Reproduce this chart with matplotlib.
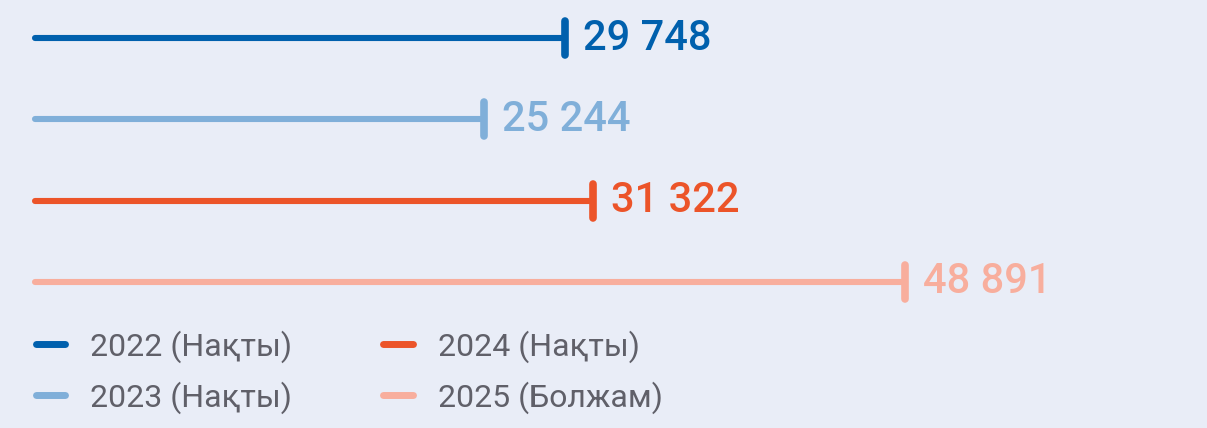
import matplotlib
matplotlib.use('Agg')
import matplotlib.pyplot as plt
from matplotlib.lines import Line2D
from matplotlib.markers import MarkerStyle

# Дерек
years = ['2022 (Нақты)', '2023 (Нақты)', '2024 (Нақты)', '2025 (Болжам)']
values = [29748, 25244, 31322, 48891]
colors = ['#0060AD', '#80AFD9', '#EC5429', '#F8AE9D']

bg = '#E9EDF7'
W, H = 1207, 428
fig = plt.figure(figsize=(W / 100, H / 100), dpi=100, facecolor=bg)
ax = fig.add_axes([0, 0, 1, 1], facecolor=bg)

# пиксельдік масштаб
px_per_unit = 0.0178
x0 = 35
ax.set_xlim(-x0 / px_per_unit, (W - x0) / px_per_unit)
row_step, row0 = 81.3, 38
ax.set_ylim((H - row0) / row_step, -row0 / row_step)
ax.axis('off')

cap = MarkerStyle('|', capstyle='round')
for i, (v, c) in enumerate(zip(values, colors)):
    ax.plot([0, v], [i, i], color=c, lw=4.4, solid_capstyle='round')
    ax.plot([v], [i], marker=cap, color=c, markersize=25, markeredgewidth=5.5)
    label = f'{v:,}'.replace(',', ' ')
    ax.annotate(label, (v, i), xytext=(13, 0), textcoords='offset points',
                ha='left', va='center', color=c, fontsize=30,
                fontfamily='Roboto', fontweight='medium')

handles = [Line2D([0], [0], color=c, lw=5, solid_capstyle='round') for c in colors]
leg = fig.legend(handles, years, ncol=2, loc='upper left',
                 bbox_to_anchor=(36 / W, 1 - 330 / H), frameon=False,
                 borderpad=0, borderaxespad=0, handlelength=0.92,
                 handletextpad=0.78, columnspacing=2.85, labelspacing=0.58,
                 prop={'family': 'Roboto', 'weight': 'normal', 'size': 23})
for t in leg.get_texts():
    t.set_color('#606069')

fig.savefig('out.png', dpi=100, facecolor=bg)
